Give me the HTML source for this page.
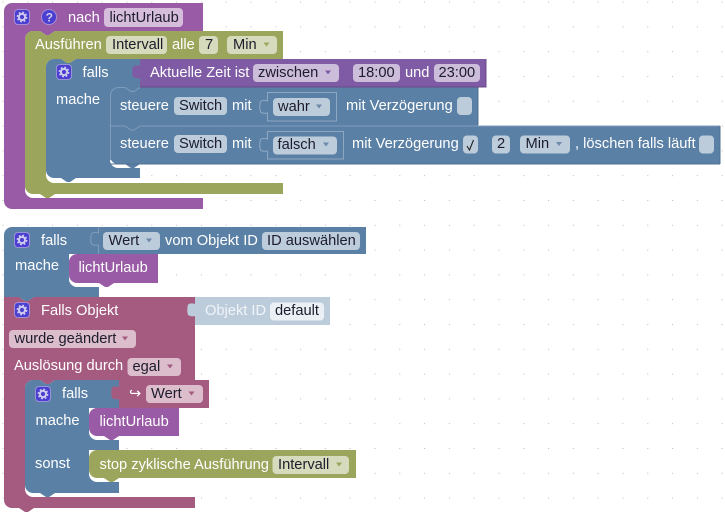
<!DOCTYPE html>
<html><head><meta charset="utf-8"><style>
html,body{margin:0;padding:0;background:#fff;width:725px;height:513px;overflow:hidden}
svg{display:block}
text{font-family:"Liberation Sans",sans-serif;font-size:14.67px;fill:#fff;white-space:pre}
text.d{fill:#1c1c2c}
</style></head><body>
<svg width="725" height="513" viewBox="0 0 725 513" xmlns="http://www.w3.org/2000/svg">
<defs>
<pattern id="g" x="1.5" y="0.6" width="24.8" height="24.8" patternUnits="userSpaceOnUse">
<path d="M1,1.5h1M1.5,1v1" stroke="#c4c4c4" stroke-width="1" fill="none"/>
<rect x="1" y="1" width="1" height="1" fill="#bbb"/>
</pattern>
<g id="gear"><rect x=".5" y=".5" width="15" height="15" rx="3.5" fill="#4a3fd0" stroke="#b9a9e6" stroke-opacity=".7"/><circle cx="8" cy="8" r="3.1" fill="none" stroke="#cfcbef" stroke-width="2"/><circle cx="8" cy="8" r="4.7" fill="none" stroke="#cfcbef" stroke-width="1.4" stroke-dasharray="1.9 1.8"/></g>
</defs>
<rect width="725" height="513" fill="#fff"/>
<rect width="725" height="513" fill="url(#g)"/>

<!-- Block 1 -->
<path fill="#995ba5" d="M4,11A8,8 0 0 1 12,3H203V31H55l-6,4h-3l-6,-4H33a8,8 0 0 0 -8,8V190a8,8 0 0 0 8,8H203V209H12a8,8 0 0 1 -8,-8Z"/>
<path fill="#9ba55b" d="M25,39a8,8 0 0 1 8,-8h7l6,4h3l6,-4H283V59H76l-6,4h-3l-6,-4H54a8,8 0 0 0 -8,8V175a8,8 0 0 0 8,8H283V194H55l-6,4h-3l-6,-4H33a8,8 0 0 1 -8,-8Z"/>
<path fill="#5b80a5" d="M46,67a8,8 0 0 1 8,-8h7l6,4h3l6,-4H140V100H110V160a8,8 0 0 0 8,8H140V178H76l-6,4h-3l-6,-4H54a8,8 0 0 1 -8,-8Z"/>
<path fill="#805ba5" d="M140,59H486V87H140V78Q136,79 133,77Q131.500,72 133,66.500Q136,64.500 140,66Z"/>
<path fill="#5b80a5" d="M110,126H720V164H140l-6,4h-3l-6,-4H118a8,8 0 0 1 -8,-8Z"/>
<path fill="#5b80a5" d="M110,95a8,8 0 0 1 8,-8h7l6,4h3l6,-4H478V126H110Z"/>
<path d="M110.500,160V95.500a8,8 0 0 1 8,-8h6.500l6,4h3l6,-4" fill="none" stroke="#7f9cba" stroke-width="1"/>
<path d="M110,126H125M140,126H720" stroke="#7f9cba" stroke-width="1"/>
<path fill="#5b80a5" d="M125,126l6,4h3l6,-4Z"/>
<path d="M125,126l6,4h3l6,-4" fill="none" stroke="#7f9cba" stroke-width="1"/>
<path d="M478,87V125M720,126V164M110,164H720" stroke="#4f7092" stroke-width="1" fill="none"/>
<path d="M140,87H486V59" stroke="#6a4a8c" stroke-width="1" fill="none"/>

<use href="#gear" x="14" y="9"/>
<circle cx="49" cy="17" r="7.500" fill="#4a3fd0" stroke="#b9a9e6" stroke-opacity=".7"/>
<text x="45.600" y="21.500" style="font-size:12px;font-weight:bold;fill:#cfcbef">?</text>
<text x="68" y="22">nach</text>
<rect x="104" y="8" width="79" height="19" rx="4" fill="#d6bddb"/><text class="d" x="109.500" y="22">lichtUrlaub</text>

<text x="35" y="49">Ausführen</text>
<rect x="106" y="36" width="61" height="18" rx="4" fill="#d7dbbd"/><text class="d" x="112" y="49">Intervall</text>
<text x="172" y="49">alle</text>
<rect x="199" y="36" width="19" height="18" rx="4" fill="#d7dbbd"/><text class="d" x="205" y="49">7</text>
<rect x="227" y="36" width="50" height="18" rx="4" fill="#d7dbbd"/><text class="d" x="233" y="49">Min</text>
<path fill="#9ba55b" d="M263.500,42.500h6l-3,4Z"/>

<use href="#gear" x="56" y="64"/>
<text x="82.500" y="77">falls</text>
<text x="56" y="104">mache</text>
<text x="150" y="77">Aktuelle Zeit ist</text>
<rect x="253" y="64" width="86" height="18" rx="4" fill="#ccbddb"/><text class="d" x="258" y="77">zwischen</text>
<path fill="#805ba5" d="M325,70.500h6l-3,4Z"/>
<rect x="353" y="64" width="47" height="18" rx="4" fill="#ccbddb"/><text class="d" x="358" y="77">18:00</text>
<text x="405" y="77">und</text>
<rect x="434" y="64" width="46" height="18" rx="4" fill="#ccbddb"/><text class="d" x="438.500" y="77">23:00</text>

<!-- steuere 1 -->
<text x="120" y="110">steuere</text>
<rect x="174" y="97" width="53" height="18" rx="4" fill="#bdccdb"/><text class="d" x="179" y="110">Switch</text>
<text x="232" y="110">mit</text>
<path fill="none" stroke="#8fa8c2" d="M267.500,92.500H336.500V121H267.500V113Q263,114 260.500,112Q259,107 260.500,101.500Q263,99.500 267.500,101Z"/>
<rect x="273" y="98" width="57" height="18" rx="4" fill="#bdccdb"/><text class="d" x="278" y="111">wahr</text>
<path fill="#6d8aa8" d="M316,104.500h6l-3,4Z"/>
<text x="346" y="110">mit Verzögerung</text>
<rect x="457" y="97" width="15" height="18" rx="4" fill="#bdccdb"/>

<!-- steuere 2 -->
<text x="120" y="148">steuere</text>
<rect x="174" y="135" width="53" height="18" rx="4" fill="#bdccdb"/><text class="d" x="179" y="148">Switch</text>
<text x="232" y="148">mit</text>
<path fill="none" stroke="#8fa8c2" d="M267.500,131.500H343.500V159H267.500V151Q263,152 260.500,150Q259,145 260.500,139.500Q263,137.500 267.500,139Z"/>
<rect x="273" y="136.500" width="64" height="18" rx="4" fill="#bdccdb"/><text class="d" x="277.500" y="149">falsch</text>
<path fill="#6d8aa8" d="M323,142.500h6l-3,4Z"/>
<text x="352" y="148">mit Verzögerung</text>
<rect x="463" y="135.500" width="15" height="18" rx="4" fill="#bdccdb"/>
<path d="M467,146l2.500,4l4,-10" fill="none" stroke="#222" stroke-width="1.100"/>
<rect x="492" y="135.500" width="18" height="18" rx="4" fill="#bdccdb"/><text class="d" x="497" y="148">2</text>
<rect x="520" y="135.500" width="50" height="18" rx="4" fill="#bdccdb"/><text class="d" x="525.500" y="148">Min</text>
<path fill="#6d8aa8" d="M556,142h6l-3,4Z"/>
<text x="575" y="148">, löschen falls läuft</text>
<rect x="699" y="135.500" width="15" height="18" rx="4" fill="#bdccdb"/>

<!-- Block 2 -->
<path fill="#5b80a5" d="M4,235a8,8 0 0 1 8,-8H366V254H69V279a8,8 0 0 0 8,8H99V297H34l-6,4h-3l-6,-4H4Z"/>
<path fill="none" stroke="#7f9cba" d="M98.500,227.500V233Q94,231.500 91.500,233.500Q90,239 91.500,244Q94,246 98.500,245V254"/>
<path fill="#995ba5" d="M69,262a8,8 0 0 1 8,-8H158V283H114l-6,4h-3l-6,-4H77a8,8 0 0 1 -8,-8Z"/>
<use href="#gear" x="14" y="232"/>
<text x="41" y="245">falls</text>
<rect x="103" y="232" width="57" height="18" rx="4" fill="#bdccdb"/><text class="d" x="108.500" y="245">Wert</text>
<path fill="#6d8aa8" d="M146,238.500h6l-3,4Z"/>
<text x="165" y="245">vom Objekt ID</text>
<rect x="262" y="232" width="98" height="18" rx="4" fill="#bdccdb"/><text class="d" x="267" y="245">ID auswählen</text>
<text x="15" y="270">mache</text>
<text x="78.500" y="272">lichtUrlaub</text>

<!-- Block 3 -->
<path fill="#a55b80" d="M4,297H19l6,4h3l6,-4H195V380H55l-6,4h-3l-6,-4H33a8,8 0 0 0 -8,8V489a8,8 0 0 0 8,8H195V508H34l-6,4h-3l-6,-4H12a8,8 0 0 1 -8,-8Z"/>
<path fill="#5b80a5" d="M19,297l6,4h3l6,-4Z"/>
<path fill="#bdccdb" d="M195,297H330V325H195V316Q191,317 188,315Q186.500,310 188,304.500Q191,302.500 195,304Z"/>
<use href="#gear" x="14" y="302"/>
<text x="41" y="315">Falls Objekt</text>
<text x="205" y="315" style="fill:#f0f4f8">Objekt ID</text>
<rect x="270" y="302.500" width="54" height="18" rx="4" fill="#ebf0f5"/><text class="d" x="275" y="315">default</text>
<rect x="9" y="330" width="127" height="18" rx="4" fill="#dbbdcc"/><text class="d" x="14.500" y="343">wurde geändert</text>
<path fill="#a55b80" d="M122,336.500h6l-3,4Z"/>
<text x="14" y="370">Auslösung durch</text>
<rect x="127.500" y="358" width="53.500" height="18" rx="4" fill="#dbbdcc"/><text class="d" x="132.500" y="371">egal</text>
<path fill="#a55b80" d="M167,364.500h6l-3,4Z"/>

<path fill="#5b80a5" d="M25,388a8,8 0 0 1 8,-8h7l6,4h3l6,-4H119V408H89V432a8,8 0 0 0 8,8H119V450H89V474a8,8 0 0 0 8,8H119V493H55l-6,4h-3l-6,-4H33a8,8 0 0 1 -8,-8Z"/>
<path fill="#a55b80" d="M119,380H209V408H119V399Q115,400 112,398Q110.500,393 112,387.500Q115,385.500 119,387Z"/>
<path fill="#995ba5" d="M89,416a8,8 0 0 1 8,-8H179V436H119l-6,4h-3l-6,-4H97a8,8 0 0 1 -8,-8Z"/>
<path fill="#9ba55b" d="M89,458a8,8 0 0 1 8,-8H356V478H119l-6,4h-3l-6,-4H97a8,8 0 0 1 -8,-8Z"/>
<use href="#gear" x="35" y="386"/>
<text x="62" y="398">falls</text>
<text x="129" y="398">↪</text>
<rect x="146" y="385" width="57" height="18" rx="4" fill="#dbbdcc"/><text class="d" x="151" y="398">Wert</text>
<path fill="#a55b80" d="M188.500,391.500h6l-3,4Z"/>
<text x="35.500" y="425">mache</text>
<text x="99.500" y="426">lichtUrlaub</text>
<text x="35" y="468">sonst</text>
<text x="99.500" y="469">stop zyklische Ausführung</text>
<rect x="272.500" y="456" width="76.500" height="18" rx="4" fill="#d7dbbd"/><text class="d" x="278" y="469">Intervall</text>
<path fill="#9ba55b" d="M336,462.500h6l-3,4Z"/>
</svg>
</body></html>
